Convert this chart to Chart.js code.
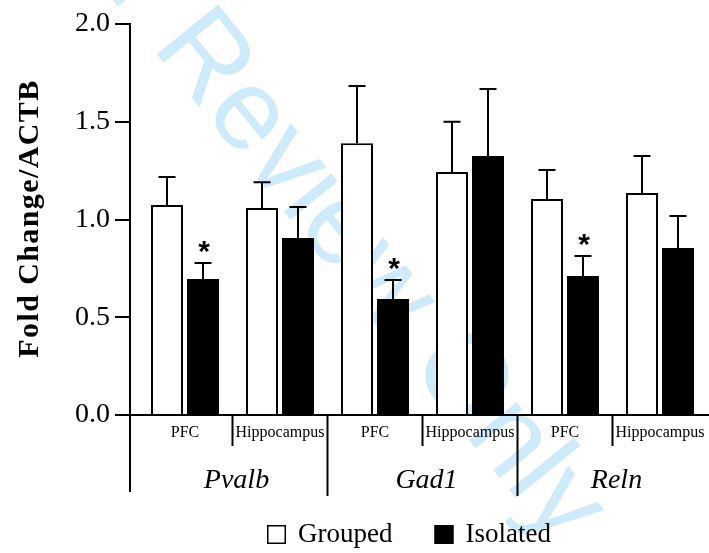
<!DOCTYPE html>
<html lang="en">
<head>
<meta charset="UTF-8">
<title>Fold Change/ACTB</title>
<style>
  html, body { margin: 0; padding: 0; background: #fff; }
  #wrap { width: 709px; height: 553px; }
</style>
<script src="https://cdn.jsdelivr.net/npm/chart.js"></script>
</head>
<body>
<div id="wrap"><canvas id="chart" width="709" height="553"></canvas></div>
<script>
// values
const regions = ['PFC', 'Hippocampus', 'PFC', 'Hippocampus', 'PFC', 'Hippocampus'];
const genes = ['Pvalb', 'Gad1', 'Reln'];
const seriesNames = ['Grouped', 'Isolated'];
const groupedMean = [1.074, 1.059, 1.390, 1.243, 1.105, 1.136];
const groupedSem = [0.143, 0.131, 0.293, 0.257, 0.148, 0.189];
const isolatedMean = [0.696, 0.905, 0.593, 1.325, 0.711, 0.854];
const isolatedSem = [0.081, 0.159, 0.097, 0.343, 0.102, 0.164];
const isolatedSig = [true, false, true, false, true, false];
const yTickValues = [0, 0.5, 1, 1.5, 2];
const yTickLabels = ['0.0', '0.5', '1.0', '1.5', '2.0'];

const serif = '"Liberation Serif", "Times New Roman", serif';
Chart.defaults.color = '#000';

const watermark = {
    id: 'watermark',
    beforeDraw(chart) {
        const ctx = chart.ctx;
        ctx.save();
        ctx.translate(22, -112);
        ctx.rotate(51 * Math.PI / 180);
        ctx.font = '115px "Liberation Sans", Arial, sans-serif';
        ctx.fillStyle = '#cdebfa';
        ctx.textBaseline = 'alphabetic';
        ctx.fillText('For Review Only', 0, 0);
        ctx.restore();
    }
};

const errorBars = {
    id: 'errorBars',
    afterDatasetsDraw(chart) {
        const ctx = chart.ctx;
        const y = chart.scales.y;
        ctx.save();
        ctx.strokeStyle = '#000';
        ctx.lineWidth = 2;
        chart.data.datasets.forEach((ds, d) => {
            const meta = chart.getDatasetMeta(d);
            meta.data.forEach((bar, i) => {
                const top = y.getPixelForValue(ds.data[i].y + ds.sem[i]);
                ctx.beginPath();
                ctx.moveTo(bar.x, bar.y);
                ctx.lineTo(bar.x, top);
                ctx.moveTo(bar.x - 8.5, top);
                ctx.lineTo(bar.x + 8.5, top);
                ctx.stroke();
                if (ds.sig && ds.sig[i]) {
                    ctx.font = 'bold 30px "Liberation Sans", Arial, sans-serif';
                    ctx.fillStyle = '#000';
                    ctx.textAlign = 'center';
                    ctx.textBaseline = 'alphabetic';
                    ctx.fillText('*', bar.x + 1, top - 19 + 17);
                }
            });
        });
        ctx.restore();
    }
};

const axisLabels = {
    id: 'axisLabels',
    afterDraw(chart) {
        const ctx = chart.ctx;
        const x = chart.scales.x;
        const area = chart.chartArea;
        const b = area.bottom;
        ctx.save();
        ctx.fillStyle = '#000';
        ctx.strokeStyle = '#000';
        ctx.lineWidth = 2;

        // region labels
        ctx.font = '16px ' + serif;
        ctx.textAlign = 'center';
        ctx.textBaseline = 'alphabetic';
        regions.forEach((r, i) => ctx.fillText(r, x.getPixelForValue(i), b + 22));

        // dividers
        ctx.beginPath();
        [0.5, 2.5, 4.5].forEach(v => {
            const px = x.getPixelForValue(v);
            ctx.moveTo(px, b); ctx.lineTo(px, b + 31);
        });
        [1.5, 3.5].forEach(v => {
            const px = x.getPixelForValue(v);
            ctx.moveTo(px, b); ctx.lineTo(px, b + 81);
        });
        ctx.moveTo(area.left, b); ctx.lineTo(area.left, b + 77);
        ctx.stroke();

        // gene labels
        ctx.font = 'italic 28px ' + serif;
        genes.forEach((g, k) => {
            const px = (x.getPixelForValue(2 * k) + x.getPixelForValue(2 * k + 1)) / 2;
            ctx.fillText(g, px + 4, b + 73);
        });

        // y title
        ctx.save();
        ctx.translate(30, (area.top + area.bottom) / 2 - 1);
        ctx.rotate(-Math.PI / 2);
        ctx.font = 'bold 30px ' + serif;
        ctx.letterSpacing = '1.4px';
        ctx.textBaseline = 'middle';
        ctx.fillText('Fold Change/ACTB', 0, 0);
        ctx.restore();

        // legend
        ctx.font = '27px ' + serif;
        ctx.textAlign = 'left';
        let lx = 267;
        chart.data.datasets.forEach(ds => {
            ctx.fillStyle = ds.backgroundColor;
            ctx.fillRect(lx, 525, 19, 19);
            ctx.lineWidth = 1.5;
            ctx.strokeRect(lx + 0.75, 525.75, 17.5, 17.5);
            ctx.fillStyle = '#000';
            ctx.fillText(ds.label, lx + 31, 542);
            lx += 31 + ctx.measureText(ds.label).width + 42;
        });
        ctx.restore();
    }
};

new Chart(document.getElementById('chart'), {
    type: 'bar',
    data: {
        datasets: [
            {
                label: seriesNames[0],
                data: groupedMean.map((v, i) => ({ x: i, y: v })),
                sem: groupedSem,
                backgroundColor: '#fff',
                borderColor: '#000',
                borderWidth: 2
            },
            {
                label: seriesNames[1],
                data: isolatedMean.map((v, i) => ({ x: i, y: v })),
                sem: isolatedSem,
                sig: isolatedSig,
                backgroundColor: '#000',
                borderColor: '#000',
                borderWidth: 0
            }
        ]
    },
    options: {
        responsive: false,
        animation: false,
        categoryPercentage: 0.758,
        barPercentage: 0.889,
        layout: { padding: { top: 24, left: 0, right: 0, bottom: 0 } },
        plugins: {
            legend: { display: false },
            tooltip: { enabled: false }
        },
        scales: {
            x: {
                type: 'linear',
                min: -0.5789,
                max: 5.5158,
                afterBuildTicks: s => { s.ticks = []; },
                afterFit: s => { s.height = 138; },
                ticks: { display: false },
                grid: { display: false },
                border: { display: true, color: '#000', width: 2 }
            },
            y: {
                min: 0,
                max: 2,
                afterBuildTicks: s => { s.ticks = yTickValues.map(v => ({ value: v })); },
                afterFit: s => { s.width = 130; },
                ticks: {
                    callback: (v, i) => yTickLabels[i],
                    font: { family: serif, size: 28 },
                    color: '#000',
                    padding: 5
                },
                grid: {
                    display: true,
                    drawOnChartArea: false,
                    drawTicks: true,
                    tickLength: 15,
                    color: '#000',
                    lineWidth: 2
                },
                border: { display: true, color: '#000', width: 2 }
            }
        }
    },
    plugins: [watermark, errorBars, axisLabels]
});
</script>
</body>
</html>
